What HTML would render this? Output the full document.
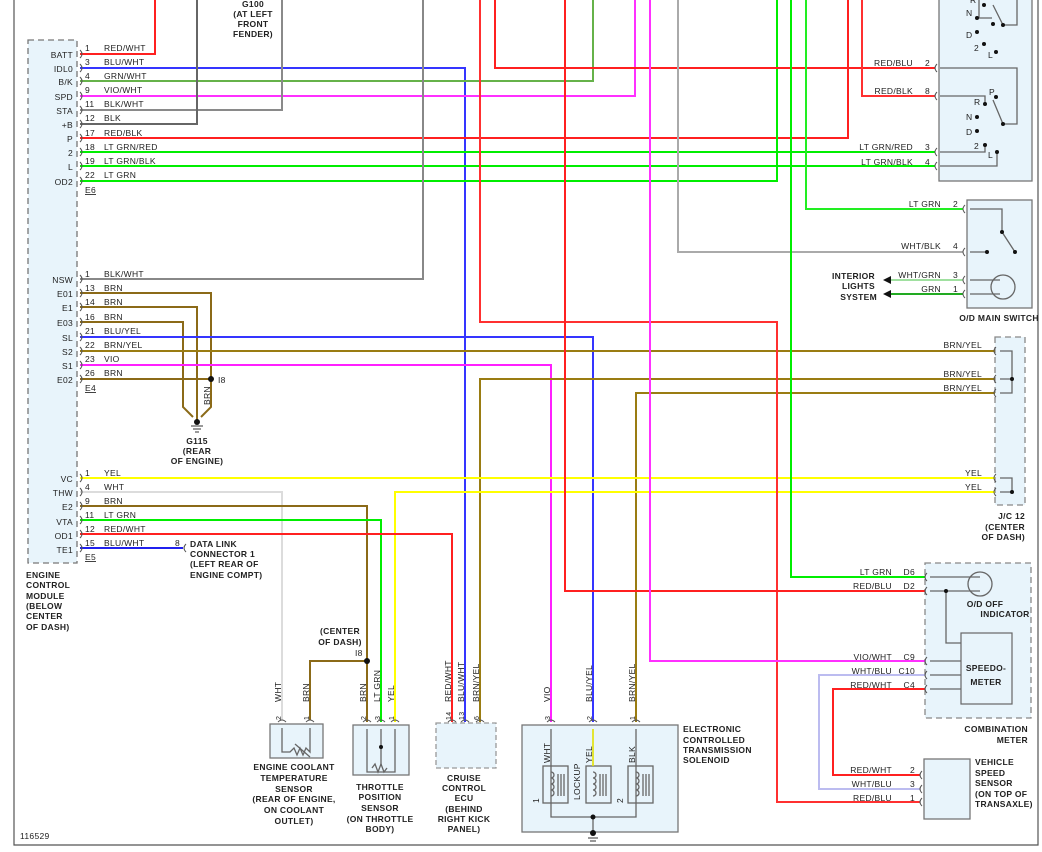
<!DOCTYPE html>
<html><head><meta charset="utf-8"><style>
html,body{margin:0;padding:0;background:#fff}
svg{display:block}
text{font-family:"Liberation Sans",sans-serif;font-size:8.5px;fill:#222;letter-spacing:.3px}
.b{font-weight:bold}
.w{fill:none;stroke-width:2;stroke-linejoin:miter}
.k{fill:none;stroke:#666;stroke-width:1.3}
.c{fill:none;stroke:#555;stroke-width:1}
</style></head><body>
<svg width="1042" height="852" viewBox="0 0 1042 852" xmlns="http://www.w3.org/2000/svg">
<path d="M14,0 V845 H1038 V0" fill="none" stroke="#555" stroke-width="1.2"/>
<rect x="28" y="40" width="49" height="523" fill="#e8f4fb" stroke="#777" stroke-width="1.3" stroke-dasharray="6,4"/>
<rect x="939" y="-5" width="93" height="186" fill="#e8f4fb" stroke="#777" stroke-width="1.3"/>
<rect x="967" y="200" width="65" height="108" fill="#e8f4fb" stroke="#777" stroke-width="1.3"/>
<rect x="995" y="337" width="30" height="168" fill="#e8f4fb" stroke="#888" stroke-width="1.3" stroke-dasharray="6,4"/>
<rect x="925" y="563" width="106" height="155" fill="#e8f4fb" stroke="#888" stroke-width="1.3" stroke-dasharray="6,4"/>
<rect x="924" y="759" width="46" height="60" fill="#e8f4fb" stroke="#777" stroke-width="1.3"/>
<rect x="270" y="724" width="53" height="34" fill="#e8f4fb" stroke="#777" stroke-width="1.3"/>
<rect x="353" y="725" width="56" height="50" fill="#e8f4fb" stroke="#777" stroke-width="1.3"/>
<rect x="436" y="723" width="60" height="45" fill="#e8f4fb" stroke="#999" stroke-width="1.3" stroke-dasharray="5,3"/>
<rect x="522" y="725" width="156" height="107" fill="#e8f4fb" stroke="#777" stroke-width="1.3"/>
<rect x="961" y="633" width="51" height="71" fill="#e8f4fb" stroke="#666" stroke-width="1.2"/>

<g class="w">
<path d="M80,54 H155 V0" stroke="#ff2020"/>
<path d="M80,68 H465 V722" stroke="#3535ff"/>
<path d="M80,81 H593 V0" stroke="#66b24a"/>
<path d="M80,96 H635 V0" stroke="#ff30ff"/>
<path d="M80,110 H282 V0" stroke="#8a8a8a"/>
<path d="M80,124 H197 V0" stroke="#666"/>
<path d="M80,138 H848 V0" stroke="#ff2020"/>
<path d="M80,152 H935" stroke="#00ee00"/>
<path d="M80,166 H935" stroke="#00ee00"/>
<path d="M80,181 H777 V0" stroke="#00ee00"/>
<path d="M80,279 H423 V0" stroke="#888"/>
<path d="M80,293 H211 V407 L201,417" stroke="#8b6a18"/>
<path d="M80,307 H197 V420" stroke="#8b6a18"/>
<path d="M80,322 H183 V407 L193,417" stroke="#8b6a18"/>
<path d="M80,379 H211" stroke="#8b6a18"/>
<path d="M80,337 H593 V722" stroke="#3535ff"/>
<path d="M80,351 H995" stroke="#9a7c12"/>
<path d="M80,365 H551 V722" stroke="#ff20ff"/>
<path d="M995,379 H480 V722" stroke="#9a7c12"/>
<path d="M995,393 H636 V722" stroke="#9a7c12"/>
<path d="M80,478 H995" stroke="#ffff00"/>
<path d="M995,492 H395 V722" stroke="#ffff00"/>
<path d="M80,492 H282 V720" stroke="#dcdcdc"/>
<path d="M80,506 H367 V722" stroke="#8b6a18"/>
<path d="M367,661 H310 V720" stroke="#8b6a18"/>
<path d="M80,520 H381 V722" stroke="#00ee00"/>
<path d="M80,534 H452 V722" stroke="#ff2020"/>
<path d="M80,548 H183" stroke="#2020ee"/>
<path d="M480,0 V322 H777 V802 H920" stroke="#ff3030"/>
<path d="M495,0 V68 H935" stroke="#ff2020"/>
<path d="M565,0 V591 H925" stroke="#ff2020"/>
<path d="M650,0 V661 H925" stroke="#ff30ff"/>
<path d="M678,0 V252 H963" stroke="#aaa"/>
<path d="M791,0 V577 H925" stroke="#00ee00"/>
<path d="M806,0 V209 H963" stroke="#22ee22"/>
<path d="M862,0 V96 H935" stroke="#ff3030"/>
<path d="M925,675 H819 V789 H920" stroke="#bcbcf0"/>
<path d="M925,689 H833 V775 H920" stroke="#ff2020"/>
<path d="M963,280 H890" stroke="#a0e0a0"/>
<path d="M963,294 H890" stroke="#22aa22"/>
</g>
<polygon points="883,280 891,276 891,284" fill="#111"/>
<polygon points="883,294 891,290 891,298" fill="#111"/>
<g fill="#111">
<circle cx="211" cy="379" r="3"/><circle cx="367" cy="661" r="3"/>
<circle cx="197" cy="422" r="3"/>
</g>
<path d="M191,426 H203 M193,429 H201 M195,432 H199" stroke="#333" stroke-width="1"/>

<g class="c">
<path d="M80,50 q4,4 0,8 M80,64 q4,4 0,8 M80,77 q4,4 0,8 M80,92 q4,4 0,8 M80,106 q4,4 0,8 M80,120 q4,4 0,8 M80,134 q4,4 0,8 M80,148 q4,4 0,8 M80,162 q4,4 0,8 M80,177 q4,4 0,8"/>
<path d="M80,275 q4,4 0,8 M80,289 q4,4 0,8 M80,303 q4,4 0,8 M80,318 q4,4 0,8 M80,333 q4,4 0,8 M80,347 q4,4 0,8 M80,361 q4,4 0,8 M80,375 q4,4 0,8"/>
<path d="M80,474 q4,4 0,8 M80,488 q4,4 0,8 M80,502 q4,4 0,8 M80,516 q4,4 0,8 M80,530 q4,4 0,8 M80,544 q4,4 0,8"/>
<path d="M186,544 q-4,4 0,8"/>
<path d="M937,64 q-4,4 0,8 M937,92 q-4,4 0,8 M937,148 q-4,4 0,8 M937,162 q-4,4 0,8"/>
<path d="M965,205 q-4,4 0,8 M965,248 q-4,4 0,8 M965,276 q-4,4 0,8 M965,290 q-4,4 0,8"/>
<path d="M996,347 q-4,4 0,8 M996,375 q-4,4 0,8 M996,389 q-4,4 0,8 M996,474 q-4,4 0,8 M996,488 q-4,4 0,8"/>
<path d="M927,573 q-4,4 0,8 M927,587 q-4,4 0,8 M927,657 q-4,4 0,8 M927,671 q-4,4 0,8 M927,685 q-4,4 0,8"/>
<path d="M922,771 q-4,4 0,8 M922,785 q-4,4 0,8 M922,798 q-4,4 0,8"/>
<path d="M278,722 q4,-4 8,0 M306,722 q4,-4 8,0 M363,722 q4,-4 8,0 M377,722 q4,-4 8,0 M391,722 q4,-4 8,0 M448,722 q4,-4 8,0 M461,722 q4,-4 8,0 M476,722 q4,-4 8,0 M547,722 q4,-4 8,0 M589,722 q4,-4 8,0 M632,722 q4,-4 8,0"/>
</g>

<g text-anchor="end">
<text x="73" y="58">BATT</text><text x="73" y="72">IDL0</text><text x="73" y="85">B/K</text><text x="73" y="100">SPD</text><text x="73" y="114">STA</text><text x="73" y="128">+B</text><text x="73" y="142">P</text><text x="73" y="156">2</text><text x="73" y="170">L</text><text x="73" y="185">OD2</text>
<text x="73" y="283">NSW</text><text x="73" y="297">E01</text><text x="73" y="311">E1</text><text x="73" y="326">E03</text><text x="73" y="341">SL</text><text x="73" y="355">S2</text><text x="73" y="369">S1</text><text x="73" y="383">E02</text>
<text x="73" y="482">VC</text><text x="73" y="496">THW</text><text x="73" y="510">E2</text><text x="73" y="525">VTA</text><text x="73" y="539">OD1</text><text x="73" y="553">TE1</text>
</g>
<g>
<text x="85" y="51">1</text><text x="104" y="51">RED/WHT</text>
<text x="85" y="65">3</text><text x="104" y="65">BLU/WHT</text>
<text x="85" y="79">4</text><text x="104" y="79">GRN/WHT</text>
<text x="85" y="93">9</text><text x="104" y="93">VIO/WHT</text>
<text x="85" y="107">11</text><text x="104" y="107">BLK/WHT</text>
<text x="85" y="121">12</text><text x="104" y="121">BLK</text>
<text x="85" y="136">17</text><text x="104" y="136">RED/BLK</text>
<text x="85" y="150">18</text><text x="104" y="150">LT GRN/RED</text>
<text x="85" y="164">19</text><text x="104" y="164">LT GRN/BLK</text>
<text x="85" y="178">22</text><text x="104" y="178">LT GRN</text>
<text x="85" y="193" text-decoration="underline">E6</text>
<text x="85" y="277">1</text><text x="104" y="277">BLK/WHT</text>
<text x="85" y="291">13</text><text x="104" y="291">BRN</text>
<text x="85" y="305">14</text><text x="104" y="305">BRN</text>
<text x="85" y="320">16</text><text x="104" y="320">BRN</text>
<text x="85" y="334">21</text><text x="104" y="334">BLU/YEL</text>
<text x="85" y="348">22</text><text x="104" y="348">BRN/YEL</text>
<text x="85" y="362">23</text><text x="104" y="362">VIO</text>
<text x="85" y="376">26</text><text x="104" y="376">BRN</text>
<text x="85" y="391" text-decoration="underline">E4</text>
<text x="85" y="476">1</text><text x="104" y="476">YEL</text>
<text x="85" y="490">4</text><text x="104" y="490">WHT</text>
<text x="85" y="504">9</text><text x="104" y="504">BRN</text>
<text x="85" y="518">11</text><text x="104" y="518">LT GRN</text>
<text x="85" y="532">12</text><text x="104" y="532">RED/WHT</text>
<text x="85" y="546">15</text><text x="104" y="546">BLU/WHT</text>
<text x="85" y="560" text-decoration="underline">E5</text>
<text x="175" y="546">8</text>
<text x="218" y="383">I8</text>
<text x="210" y="405" transform="rotate(-90 210 405)">BRN</text>
</g>
<g class="b">
<text x="26" y="578">ENGINE</text><text x="26" y="588">CONTROL</text><text x="26" y="599">MODULE</text><text x="26" y="609">(BELOW</text><text x="26" y="619">CENTER</text><text x="26" y="630">OF DASH)</text>
<text x="190" y="547">DATA LINK</text><text x="190" y="557">CONNECTOR 1</text><text x="190" y="567">(LEFT REAR OF</text><text x="190" y="578">ENGINE COMPT)</text>
</g>
<g class="b" text-anchor="middle">
<text x="253" y="7">G100</text><text x="253" y="17">(AT LEFT</text><text x="253" y="27">FRONT</text><text x="253" y="37">FENDER)</text>
<text x="197" y="444">G115</text><text x="197" y="454">(REAR</text><text x="197" y="464">OF ENGINE)</text>
<text x="294" y="770">ENGINE COOLANT</text><text x="294" y="781">TEMPERATURE</text><text x="294" y="792">SENSOR</text><text x="294" y="802">(REAR OF ENGINE,</text><text x="294" y="813">ON COOLANT</text><text x="294" y="824">OUTLET)</text>
<text x="380" y="790">THROTTLE</text><text x="380" y="800">POSITION</text><text x="380" y="811">SENSOR</text><text x="380" y="822">(ON THROTTLE</text><text x="380" y="832">BODY)</text>
<text x="464" y="781">CRUISE</text><text x="464" y="791">CONTROL</text><text x="464" y="801">ECU</text><text x="464" y="812">(BEHIND</text><text x="464" y="822">RIGHT KICK</text><text x="464" y="832">PANEL)</text>
<text x="340" y="634">(CENTER</text><text x="340" y="645">OF DASH)</text>
<text x="999" y="321">O/D MAIN SWITCH</text>
<text x="1005" y="617">INDICATOR</text><text x="985" y="607">O/D OFF</text>
<text x="986" y="685">METER</text><text x="986" y="671">SPEEDO-</text>
</g>
<text x="355" y="656">I8</text>
<text x="20" y="839">116529</text>
<g class="b">
<text x="683" y="732">ELECTRONIC</text><text x="683" y="743">CONTROLLED</text><text x="683" y="753">TRANSMISSION</text><text x="683" y="763">SOLENOID</text>
<text x="975" y="765">VEHICLE</text><text x="975" y="776">SPEED</text><text x="975" y="786">SENSOR</text><text x="975" y="797">(ON TOP OF</text><text x="975" y="807">TRANSAXLE)</text>
<text x="1028" y="732" text-anchor="end">COMBINATION</text><text x="1028" y="743" text-anchor="end">METER</text>
<text x="1025" y="519" text-anchor="end">J/C 12</text><text x="1025" y="530" text-anchor="end">(CENTER</text><text x="1025" y="540" text-anchor="end">OF DASH)</text>
<text x="875" y="279" text-anchor="end">INTERIOR</text><text x="875" y="289" text-anchor="end">LIGHTS</text><text x="877" y="300" text-anchor="end">SYSTEM</text>
</g>
<g text-anchor="end">
<text x="913" y="66">RED/BLU</text><text x="930" y="66">2</text>
<text x="913" y="94">RED/BLK</text><text x="930" y="94">8</text>
<text x="913" y="150">LT GRN/RED</text><text x="930" y="150">3</text>
<text x="913" y="165">LT GRN/BLK</text><text x="930" y="165">4</text>
<text x="941" y="207">LT GRN</text><text x="958" y="207">2</text>
<text x="941" y="249">WHT/BLK</text><text x="958" y="249">4</text>
<text x="941" y="278">WHT/GRN</text><text x="958" y="278">3</text>
<text x="941" y="292">GRN</text><text x="958" y="292">1</text>
<text x="982" y="348">BRN/YEL</text><text x="982" y="377">BRN/YEL</text><text x="982" y="391">BRN/YEL</text>
<text x="982" y="476">YEL</text><text x="982" y="490">YEL</text>
<text x="892" y="575">LT GRN</text><text x="915" y="575">D6</text>
<text x="892" y="589">RED/BLU</text><text x="915" y="589">D2</text>
<text x="892" y="660">VIO/WHT</text><text x="915" y="660">C9</text>
<text x="892" y="674">WHT/BLU</text><text x="915" y="674">C10</text>
<text x="892" y="688">RED/WHT</text><text x="915" y="688">C4</text>
<text x="892" y="773">RED/WHT</text><text x="915" y="773">2</text>
<text x="892" y="787">WHT/BLU</text><text x="915" y="787">3</text>
<text x="892" y="801">RED/BLU</text><text x="915" y="801">1</text>
</g>
<g>
<text transform="translate(281,702) rotate(-90)">WHT</text>
<text transform="translate(309,702) rotate(-90)">BRN</text>
<text transform="translate(366,702) rotate(-90)">BRN</text>
<text transform="translate(380,702) rotate(-90)">LT GRN</text>
<text transform="translate(394,702) rotate(-90)">YEL</text>
<text transform="translate(451,702) rotate(-90)">RED/WHT</text>
<text transform="translate(464,702) rotate(-90)">BLU/WHT</text>
<text transform="translate(479,702) rotate(-90)">BRN/YEL</text>
<text transform="translate(550,702) rotate(-90)">VIO</text>
<text transform="translate(592,702) rotate(-90)">BLU/YEL</text>
<text transform="translate(635,702) rotate(-90)">BRN/YEL</text>
<text transform="translate(281,720) rotate(-90)" style="font-size:7px">2</text>
<text transform="translate(309,720) rotate(-90)" style="font-size:7px">1</text>
<text transform="translate(366,720) rotate(-90)" style="font-size:7px">2</text>
<text transform="translate(380,720) rotate(-90)" style="font-size:7px">3</text>
<text transform="translate(394,720) rotate(-90)" style="font-size:7px">1</text>
<text transform="translate(451,720) rotate(-90)" style="font-size:7px">14</text>
<text transform="translate(464,720) rotate(-90)" style="font-size:7px">13</text>
<text transform="translate(479,720) rotate(-90)" style="font-size:7px">6</text>
<text transform="translate(550,720) rotate(-90)" style="font-size:7px">3</text>
<text transform="translate(592,720) rotate(-90)" style="font-size:7px">2</text>
<text transform="translate(635,720) rotate(-90)" style="font-size:7px">1</text>
</g>
<g class="k">
<path d="M282,728 V752 L290,752 L294,748 L297,755 L300,748 L303,755 L306,748 L310,752 V728"/>
<path d="M295,744 L310,757"/>
<path d="M367,729 V772 H395 V729 M381,729 V766"/>
<path d="M372,768 l3,-4 3,8 3,-8 3,8 3,-4"/>
<path d="M551,729 V817 H636 V729 M593,729 V766"/>
<rect x="543" y="766" width="25" height="37" fill="none"/>
<rect x="586" y="766" width="25" height="37" fill="none"/>
<rect x="628" y="766" width="25" height="37" fill="none"/>
<path d="M551,772 a3,3 0 0 1 0,6 a3,3 0 0 1 0,6 a3,3 0 0 1 0,6 a3,3 0 0 1 0,6 M558,774 V796 M561,774 V796 M564,774 V796"/>
<path d="M593,772 a3,3 0 0 1 0,6 a3,3 0 0 1 0,6 a3,3 0 0 1 0,6 a3,3 0 0 1 0,6 M600,774 V796 M603,774 V796 M606,774 V796"/>
<path d="M636,772 a3,3 0 0 1 0,6 a3,3 0 0 1 0,6 a3,3 0 0 1 0,6 a3,3 0 0 1 0,6 M643,774 V796 M646,774 V796 M649,774 V796"/>
<path d="M593,817 V833"/>
<path d="M930,577 H980 M930,591 H980 M946,591 V643 H961 M930,661 H961 M930,675 H961 M930,689 H961"/>
<circle cx="980" cy="584" r="12"/>
<path d="M1000,351 H1012 V393 H1000 M1000,379 H1012 M1000,478 H1012 V492 H1000"/>
<path d="M970,209 H1002 V232 L1015,252 M970,252 H987 M970,280 H1000 M970,294 H1000"/>
<circle cx="1003" cy="287" r="12"/>
<path d="M940,68 H1017 V124 H1003 L993,100 M940,96 H985 V104 M940,152 H985 V145 M940,166 H997 V152"/>
<path d="M979,0 V18 H992 M1017,0 V25 H1003 L993,5"/>
</g>
<path d="M593,729 V766" stroke="#ee0" stroke-width="1.5"/>
<g fill="#111">
<circle cx="593" cy="817" r="2.5"/><circle cx="593" cy="833" r="3"/>
<circle cx="946" cy="591" r="2"/><circle cx="381" cy="747" r="2"/>
<circle cx="1012" cy="379" r="2"/><circle cx="1012" cy="492" r="2"/>
<circle cx="987" cy="252" r="2"/><circle cx="1002" cy="232" r="2"/><circle cx="1015" cy="252" r="2"/>
<circle cx="984" cy="5" r="2"/><circle cx="977" cy="18" r="2"/><circle cx="977" cy="32" r="2"/><circle cx="984" cy="44" r="2"/><circle cx="996" cy="52" r="2"/>
<circle cx="993" cy="24" r="2"/><circle cx="1003" cy="25" r="2"/>
<circle cx="996" cy="97" r="2"/><circle cx="985" cy="104" r="2"/><circle cx="977" cy="117" r="2"/><circle cx="977" cy="131" r="2"/><circle cx="985" cy="145" r="2"/><circle cx="997" cy="152" r="2"/><circle cx="1003" cy="124" r="2"/>
</g>
<path d="M588,838 H598 M590,841 H596" stroke="#333"/>
<g style="font-size:7.5px">
<text x="970" y="3">R</text><text x="966" y="16">N</text>
<text x="966" y="38">D</text><text x="974" y="51">2</text><text x="988" y="58">L</text>
<text x="989" y="95">P</text><text x="974" y="105">R</text><text x="966" y="120">N</text><text x="966" y="135">D</text><text x="974" y="149">2</text><text x="988" y="158">L</text>
<text transform="translate(550,763) rotate(-90)">WHT</text>
<text transform="translate(592,763) rotate(-90)">YEL</text>
<text transform="translate(635,763) rotate(-90)">BLK</text>
<text transform="translate(580,800) rotate(-90)">LOCKUP</text>
<text transform="translate(539,803) rotate(-90)">1</text>
<text transform="translate(623,803) rotate(-90)">2</text>
</g>
</svg>
</body></html>
